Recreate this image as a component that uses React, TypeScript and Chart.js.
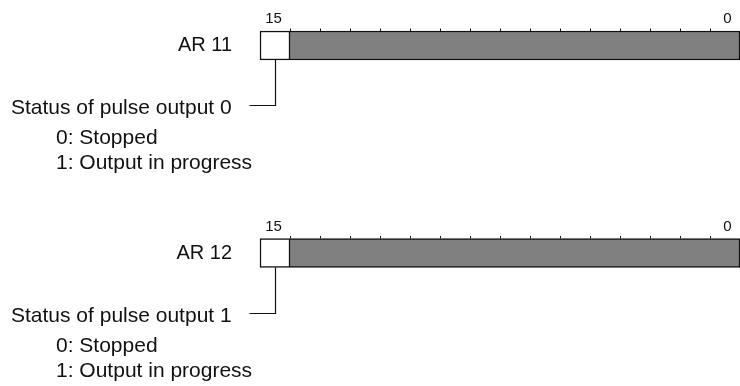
import React, { useEffect, useRef } from "react";
import { Chart, registerables } from "chart.js";

Chart.register(...registerables);

// ---- data ----
const registers = ["AR 11", "AR 12"];
const bitLabels = ["15", "0"];
const highBit = 15;
const lowBit = 0;
const flagSpans = [
  [16, 15],
  [16, 15],
];
const otherSpans = [
  [15, 0],
  [15, 0],
];
const statusTitles = ["Status of pulse output 0", "Status of pulse output 1"];
const statusValues = ["0: Stopped", "1: Output in progress"];

const FONT = "'Liberation Sans', Arial, Helvetica, sans-serif";
const INK = "#111111";

const diagramPlugin = {
  id: "diagram",
  afterDatasetsDraw(chart: any) {
    const ctx = chart.ctx;
    const xs = chart.scales.x;
    const ys = chart.scales.y;
    const half = 14.5;
    ctx.save();
    registers.forEach((_, i) => {
      const yc = ys.getPixelForValue(i);
      const top = yc - half;
      const bottom = yc + half;
      // small tick marks on top edge at bit boundaries
      ctx.strokeStyle = INK;
      ctx.lineWidth = 1;
      for (let k = lowBit + 1; k <= highBit; k++) {
        const x = Math.round(xs.getPixelForValue(k)) + 0.5;
        ctx.beginPath();
        ctx.moveTo(x, top - 2.5);
        ctx.lineTo(x, top);
        ctx.stroke();
      }
      // bit number labels
      ctx.fillStyle = INK;
      ctx.font = `15px ${FONT}`;
      ctx.textAlign = "center";
      ctx.textBaseline = "alphabetic";
      ctx.fillText(bitLabels[0], xs.getPixelForValue(highBit + 0.55), top - 8);
      ctx.fillText(bitLabels[1], xs.getPixelForValue(lowBit + 0.42), top - 8);

      // leader line
      const lx = Math.round(xs.getPixelForValue(highBit + 0.5)) + 0.5;
      const ly = Math.round(bottom + 45) + 0.5;
      ctx.lineWidth = 1.2;
      ctx.beginPath();
      ctx.moveTo(lx, bottom);
      ctx.lineTo(lx, ly);
      ctx.lineTo(lx - 26, ly);
      ctx.stroke();

      // status texts
      ctx.font = `21px ${FONT}`;
      ctx.textAlign = "left";
      const base = bottom + 54;
      ctx.fillText(statusTitles[i], 11, base);
      ctx.fillText(statusValues[0], 56, base + 30);
      ctx.fillText(statusValues[1], 56, base + 55);
    });
    ctx.restore();
  },
};

export default function App() {
  const ref = useRef<HTMLCanvasElement | null>(null);
  useEffect(() => {
    if (!ref.current) return;
    const chart = new Chart(ref.current, {
      type: "bar",
      data: {
        labels: registers,
        datasets: [
          {
            label: "bit 15",
            data: flagSpans as any,
            backgroundColor: "#ffffff",
            borderColor: INK,
            borderWidth: 1.5,
            borderSkipped: false,
            grouped: false,
            barThickness: 29,
            clip: false as any,
          },
          {
            label: "bits 14-0",
            data: otherSpans as any,
            backgroundColor: "#808080",
            borderColor: INK,
            borderWidth: 1.5,
            borderSkipped: "right" as any,
            grouped: false,
            barThickness: 29,
            clip: false as any,
          },
        ],
      },
      options: {
        indexAxis: "y",
        animation: false,
        responsive: false,
        events: [],
        layout: { padding: { top: 45.5, bottom: 133, left: 0, right: 0 } },
        plugins: { legend: { display: false }, tooltip: { enabled: false } },
        scales: {
          x: { type: "linear", min: 0, max: 16, reverse: true, display: false },
          y: {
            type: "category",
            offset: false,
            grid: { display: false, drawTicks: false },
            border: { display: false },
            ticks: { padding: 28, color: INK, font: { family: FONT, size: 20 } },
            afterFit: (s: any) => {
              s.width = 260;
            },
          },
        },
      },
      plugins: [diagramPlugin],
    });
    return () => chart.destroy();
  }, []);
  return (
    <div style={{ position: "fixed", left: 0, top: 0, width: 740, height: 386, background: "#fff" }}>
      <canvas ref={ref} width={740} height={386} style={{ display: "block" }} />
    </div>
  );
}
